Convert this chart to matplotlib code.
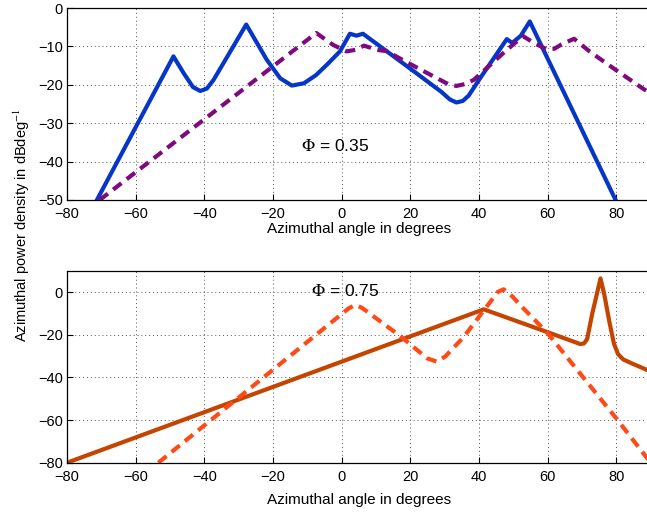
import matplotlib
matplotlib.use("Agg")
import matplotlib.pyplot as plt

plt.rcParams['font.family'] = ['Liberation Sans', 'DejaVu Sans']
plt.rcParams['mathtext.fontset'] = 'stix'

# Phi = 0.35 (oben)
top_solid_x = [-71.3, -49.0, -46.0, -43.3, -41.2, -39.3, -37.3, -27.8, -21.8, -17.9, -14.5,
               -11.0, -7.5, -4.0, -0.5, 2.4, 4.3, 6.2, 20.0, 29.0, 31.5, 33.4, 35.3, 37.0,
               40.4, 48.1, 49.7, 52.2, 54.8, 79.8]
top_solid_y = [-50.0, -12.6, -17.0, -20.6, -21.6, -21.0, -18.7, -4.3, -13.5, -18.3, -20.2,
               -19.6, -17.5, -14.5, -11.3, -6.7, -7.2, -6.7, -15.8, -21.8, -23.8, -24.6, -24.2, -22.8,
               -18.2, -8.1, -9.1, -7.2, -3.5, -50.0]
top_dash_x = [-70.5, -7.4, -2.5, 1.4, 4.0, 6.5, 9.0, 11.0, 13.0, 20.0, 27.8, 31.0, 33.4, 36.0,
              38.5, 47.0, 52.8, 56.2, 59.6, 62.0, 64.0, 67.7, 72.2, 79.0, 87.3, 90.0]
top_dash_y = [-50.0, -6.5, -9.6, -11.3, -10.9, -9.8, -10.5, -11.0, -11.2, -14.6, -18.3, -19.8,
              -20.3, -19.8, -18.7, -11.8, -7.3, -9.2, -10.7, -10.6, -9.5, -8.0, -11.3, -15.6,
              -20.7, -22.3]

# Phi = 0.75 (unten)
bot_solid_x = [-80.0, 41.4, 60.8, 69.5, 70.6, 71.5, 73.0, 75.4, 76.5, 78.0, 79.3, 80.5, 82.0,
               84.0, 90.0]
bot_solid_y = [-80.0, -8.0, -19.2, -24.3, -24.0, -22.0, -10.0, 6.5, -1.0, -14.0, -24.0, -29.0,
               -31.5, -33.0, -37.2]
bot_dash_x = [-53.4, 2.0, 4.0, 6.0, 17.1, 24.9, 27.8, 30.2, 35.5, 45.5, 47.2, 49.7, 52.0, 60.0,
              80.0, 90.0]
bot_dash_y = [-80.0, -7.6, -5.9, -7.4, -20.6, -31.0, -32.6, -30.1, -21.1, 0.2, 1.4, -1.9, -6.0,
              -19.2, -59.2, -80.0]

xticks = [-80, -60, -40, -20, 0, 20, 40, 60, 80]
top_yticks = [-50, -40, -30, -20, -10, 0]
bot_yticks = [-80, -60, -40, -20, 0]

LW = 3.0
fig = plt.figure(figsize=(6.47, 5.14), dpi=100)
ax1 = fig.add_axes([0.1036, 0.6109, 0.902, 0.3735])
ax2 = fig.add_axes([0.1036, 0.0998, 0.902, 0.373])

ax1.plot(top_solid_x, top_solid_y, color='#0636c8', lw=LW, solid_joinstyle='round')
ax1.plot(top_dash_x, top_dash_y, color='#7f0a80', lw=LW, dashes=(2.5, 1.6))
ax1.set_xlim(-80, 90)
ax1.set_ylim(-50, 0)
ax1.set_yticks(top_yticks)
ax1.text(0.459, 0.28, r'$\Phi$ = 0.35', transform=ax1.transAxes, fontsize=12.5,
         ha='center', va='center')

ax2.plot(bot_solid_x, bot_solid_y, color='#c44400', lw=LW, solid_joinstyle='round')
ax2.plot(bot_dash_x, bot_dash_y, color='#ff4a17', lw=LW, dashes=(2.5, 1.6))
ax2.set_xlim(-80, 90)
ax2.set_ylim(-80, 10)
ax2.set_yticks(bot_yticks)
ax2.text(0.476, 0.896, r'$\Phi$ = 0.75', transform=ax2.transAxes, fontsize=12.5,
         ha='center', va='center')

for ax in (ax1, ax2):
    ax.set_xticks(xticks)
    ax.set_xticklabels([str(t).replace('-', '\u2212') for t in xticks])
    ax.set_yticklabels([str(t).replace('-', '\u2212') for t in ax.get_yticks().astype(int)])
    ax.tick_params(direction='in', length=4, width=0.8, labelsize=10.5)
    ax.tick_params(axis='x', pad=5)
    ax.tick_params(axis='y', pad=3)
    ax.grid(True, linestyle=(0, (1, 3)), color='#555555', lw=0.7)
    for s in ax.spines.values():
        s.set_linewidth(0.9)
    ax.set_xlabel('Azimuthal angle in degrees', fontsize=11, labelpad=1)

ax2.xaxis.labelpad = 7
fig.text(0.033, 0.562, r'Azimuthal power density in dBdeg$^{-1}$', rotation=90,
         ha='center', va='center', fontsize=10.5)

fig.savefig('out.png', dpi=100)
